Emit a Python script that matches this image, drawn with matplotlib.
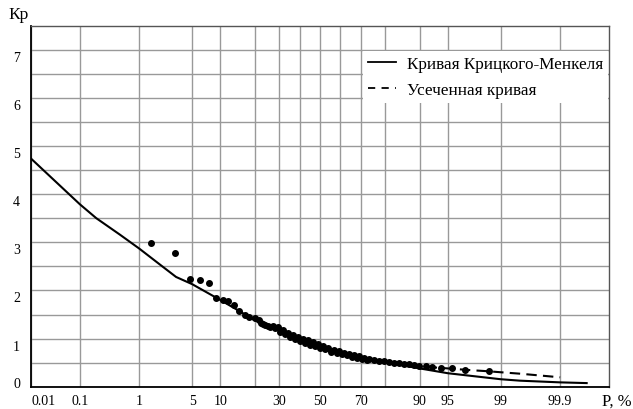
import numpy as np
import matplotlib
matplotlib.use("Agg")
import matplotlib.pyplot as plt
import matplotlib.transforms as mtransforms
from matplotlib.lines import Line2D
from statistics import NormalDist
import math

# ---------------- data ----------------
x_ticks = [0.01, 0.1, 1, 5, 10, 30, 50, 70, 90, 95, 99, 99.9]
x_tick_labels = ["0.01", "0.1", "1", "5", "10", "30", "50", "70", "90", "95", "99", "99.9"]
x_minor = [20, 40, 60, 80]
y_ticks = [0, 1, 2, 3, 4, 5, 6, 7]

# Kritsky-Menkel curve (P %, Kp)
km_p = [0.01, 0.1, 0.2, 0.5, 1, 2, 3.2, 5, 10, 15, 20, 30, 40, 50, 60, 70, 80, 85,
        90, 95, 99, 99.5, 99.9, 99.97]
km_k = [4.74, 3.79, 3.5, 3.16, 2.87, 2.53, 2.28, 2.13, 1.80, 1.57, 1.38, 1.16, 0.98,
        0.84, 0.71, 0.60, 0.50, 0.45, 0.38, 0.28, 0.155, 0.125, 0.09, 0.075]

# Truncated curve (P %, Kp)
tr_p = [70, 80, 85, 90, 93, 95, 97, 98.5, 99, 99.5, 99.9]
tr_k = [0.62, 0.52, 0.48, 0.43, 0.40, 0.38, 0.35, 0.32, 0.30, 0.27, 0.195]

# Observed points (P %, Kp)
obs_p = [1.48, 3.12, 4.69, 6.20, 7.61, 9.12, 10.6, 11.9, 13.5, 15.0, 16.6, 18.2, 20.0, 21.6,
         23.1, 25.1, 27.2, 29.3, 31.6, 33.9, 36.3, 38.7, 41.2, 43.7, 46.2, 48.8, 51.3, 53.9,
         57.3, 59.8, 62.2, 64.6, 67.0, 69.3, 71.5, 73.6, 75.7, 77.6, 79.5, 81.3, 83.0, 84.5,
         86.0, 87.4, 88.7, 89.9, 91.3, 92.6, 94.0, 95.5, 96.9, 98.5,
         22.4, 24.1, 26.2, 28.2, 30.4, 32.7, 35.1, 37.5, 40.0, 42.5, 45.0, 47.5, 50.0, 52.6,
         55.6, 58.6, 61.0, 63.4, 65.8, 68.2, 70.4, 72.6]
obs_k = [2.99, 2.77, 2.24, 2.22, 2.15, 1.85, 1.80, 1.78, 1.70, 1.58, 1.49, 1.45, 1.42, 1.38,
         1.31, 1.27, 1.27, 1.24, 1.17, 1.12, 1.08, 1.03, 0.99, 0.96, 0.92, 0.89, 0.84, 0.80,
         0.76, 0.74, 0.71, 0.68, 0.65, 0.63, 0.60, 0.58, 0.56, 0.54, 0.53, 0.52, 0.50, 0.49,
         0.48, 0.47, 0.45, 0.44, 0.42, 0.40, 0.38, 0.38, 0.35, 0.32,
         1.33, 1.29, 1.25, 1.22, 1.14, 1.10, 1.04, 1.00, 0.95, 0.91, 0.87, 0.84, 0.81, 0.78,
         0.73, 0.70, 0.68, 0.65, 0.62, 0.60, 0.58, 0.56]

legend_labels = ["Кривая Крицкого-Менкеля", "Усеченная кривая"]

# ---------------- scale ----------------
_nd = NormalDist()
_fwd = np.vectorize(lambda p: _nd.inv_cdf(min(max(p / 100.0, 1e-9), 1 - 1e-9)), otypes=[float])
_inv = np.vectorize(lambda z: 50.0 * (1.0 + math.erf(z / math.sqrt(2.0))), otypes=[float])

plt.rcParams['font.family'] = ['Liberation Serif', 'DejaVu Serif']

W, H = 633, 410
fig = plt.figure(figsize=(W / 100, H / 100), dpi=100)
ax = fig.add_axes([31 / W, 1 - 387.7 / H, (609 - 31) / W, (387.7 - 26.7) / H])
ax.set_xscale('function', functions=(_fwd, _inv))
ax.set_xlim(0.01, 99.99)
ax.set_ylim(0, 7.5)

ax.set_xticks(x_ticks)
ax.set_xticklabels(x_tick_labels, fontsize=10)
ax.set_xticks(x_minor, minor=True)
ax.set_yticks(y_ticks)
ax.set_yticklabels([str(v) for v in y_ticks], fontsize=10)
ax.set_yticks(np.arange(0.5, 7.5, 1.0), minor=True)
ax.tick_params(which='both', length=0)
ax.tick_params(axis='x', pad=5)
ax.tick_params(axis='y', pad=8)
ax.grid(True, which='both', color='#999999', lw=1.0)
ax.set_axisbelow(True)

for s in ['left', 'bottom']:
    ax.spines[s].set_color('black')
    ax.spines[s].set_linewidth(1.3)
for s in ['top', 'right']:
    ax.spines[s].set_color('#555555')
    ax.spines[s].set_linewidth(1.0)

# first x label left aligned at the axis edge
ax.get_xticklabels()[0].set_horizontalalignment('left')

# y labels sit slightly below their gridlines (0 slightly above)
for tick in ax.yaxis.get_major_ticks():
    dy = 0.05 if tick.get_loc() == 0 else -0.06
    off = mtransforms.ScaledTranslation(0, dy, fig.dpi_scale_trans)
    tick.label1.set_transform(tick.label1.get_transform() + off)

ax.plot(km_p, km_k, color='black', lw=1.5, zorder=3)
ax.plot(tr_p, tr_k, color='black', lw=1.5, ls=(0, (5, 3)), zorder=3)
ax.plot(obs_p, obs_k, 'o', color='black', ms=4.0, zorder=4)

handles = [Line2D([], [], color='black', lw=1.3),
           Line2D([], [], color='black', lw=1.3, ls=(0, (4, 3.5)))]
leg = ax.legend(handles, legend_labels, loc='upper left',
                bbox_to_anchor=(363 / W, 1 - 52 / H), bbox_transform=fig.transFigure,
                borderaxespad=0, fontsize=12.3, frameon=True, fancybox=False,
                handlelength=1.65, handletextpad=0.6, labelspacing=0.58, borderpad=0.3)
leg.get_frame().set_facecolor('white')
leg.get_frame().set_edgecolor('none')
leg.get_frame().set_alpha(1)

fig.text(8 / W, 1 - 15 / H, "Кр", fontsize=12.5, va='center', ha='left')
fig.text(602 / W, 1 - 402 / H, "P, %", fontsize=12, va='center', ha='left')

fig.savefig("out.png", dpi=100)
